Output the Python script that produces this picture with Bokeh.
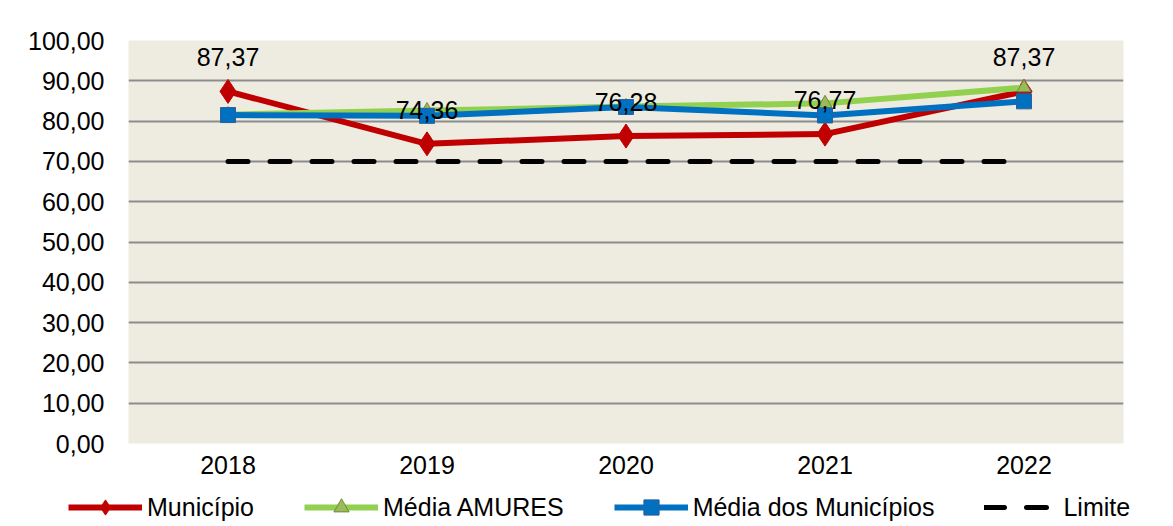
from bokeh.plotting import figure
from bokeh.layouts import column
from bokeh.models import Range1d, FactorRange, Legend, LegendItem, CustomJSTickFormatter, FixedTicker
from bokeh.core.properties import value
from bokeh.embed import file_html
from bokeh.resources import INLINE

years = ["2018", "2019", "2020", "2021", "2022"]
municipio = [87.37, 74.36, 76.28, 76.77, 87.37]
media_amures = [81.6, 82.6, 83.6, 84.4, 88.3]
media_municipios = [81.5, 81.3, 83.5, 81.4, 84.9]
limite = [70, 70, 70, 70, 70]
labels = ["87,37", "74,36", "76,28", "76,77", "87,37"]
y_ticks = [0, 10, 20, 30, 40, 50, 60, 70, 80, 90, 100]
series_names = ["Município", "Média AMURES", "Média dos Municípios", "Limite"]

FONT = "Liberation Sans"
RED, GREEN, BLUE = "#C00000", "#92D050", "#0070C0"

p = figure(width=1173, height=488, x_range=FactorRange(*years), y_range=Range1d(0, 100),
           output_backend="svg", toolbar_location=None,
           min_border_left=128, min_border_right=50, min_border_top=40, min_border_bottom=45)
p.background_fill_color = "#EEECE1"
p.border_fill_color = "white"
p.outline_line_color = None

p.xgrid.grid_line_color = None
p.ygrid.grid_line_color = "#8C8C8C"
p.ygrid.grid_line_width = 2

p.yaxis.ticker = FixedTicker(ticks=y_ticks)
p.yaxis.formatter = CustomJSTickFormatter(code="return tick.toFixed(2).replace('.', ',');")
for ax in (p.xaxis[0], p.yaxis[0]):
    ax.axis_line_color = None
    ax.major_tick_line_color = None
    ax.minor_tick_line_color = None
    ax.major_tick_out = 0
    ax.major_tick_in = 0
    ax.major_label_text_font = FONT
    ax.major_label_text_font_size = "25px"
    ax.major_label_text_color = "black"
p.yaxis.major_label_standoff = 24
p.xaxis.major_label_standoff = 12


def draw(fig, xs, ys):
    rl = fig.line(xs, ys[0], line_color=RED, line_width=6)
    rm = fig.scatter(xs, ys[0], marker="diamond", size=24, fill_color=RED, line_color=RED)
    gl = fig.line(xs, ys[1], line_color=GREEN, line_width=6)
    gm = fig.scatter(xs, ys[1], marker="triangle", size=14, fill_color="#9BBB59", line_color="#71893F", line_width=1)
    bl = fig.line(xs, ys[2], line_color=BLUE, line_width=6)
    bm = fig.scatter(xs, ys[2], marker="square", size=15, fill_color=BLUE, line_color="#2F5F98", line_width=1)
    ll = fig.line(xs, ys[3], line_color="black", line_width=5, line_dash="20 22", line_cap="round")
    return [[rl, rm], [gl, gm], [bl, bm], [ll]]


draw(p, years, [municipio, media_amures, media_municipios, limite])

p.text(years, municipio, text=labels, y_offset=-34, text_align="center", text_baseline="middle",
       text_font=value(FONT), text_font_size="25px", text_color="black")

# legend strip (its glyphs sit outside its visible range; only the legend shows)
lp = figure(width=1173, height=38, x_range=Range1d(0, 1), y_range=Range1d(0, 1),
            x_axis_type=None, y_axis_type=None, output_backend="svg", toolbar_location=None,
            min_border=0)
lp.outline_line_color = None
lp.background_fill_color = "white"
lp.grid.visible = False
for fig in (p, lp):
    try:
        fig.frame_align = False
    except Exception:
        pass
off = [5, 6]
groups = draw(lp, off, [off, off, off, off])

legend = Legend(items=[LegendItem(label=n, renderers=g) for n, g in zip(series_names, groups)],
                orientation="horizontal", location=(68, 0))
legend.label_text_font = FONT
legend.label_text_font_size = "25px"
legend.label_text_color = "black"
legend.glyph_width = 74
legend.glyph_height = 38
legend.label_height = 38
legend.label_standoff = 5
legend.spacing = 50
legend.padding = 0
legend.margin = 0
legend.border_line_color = None
legend.background_fill_alpha = 0
lp.add_layout(legend, "center")

layout = column(p, lp, spacing=0)
open("out.html", "w").write(file_html(layout, INLINE))
